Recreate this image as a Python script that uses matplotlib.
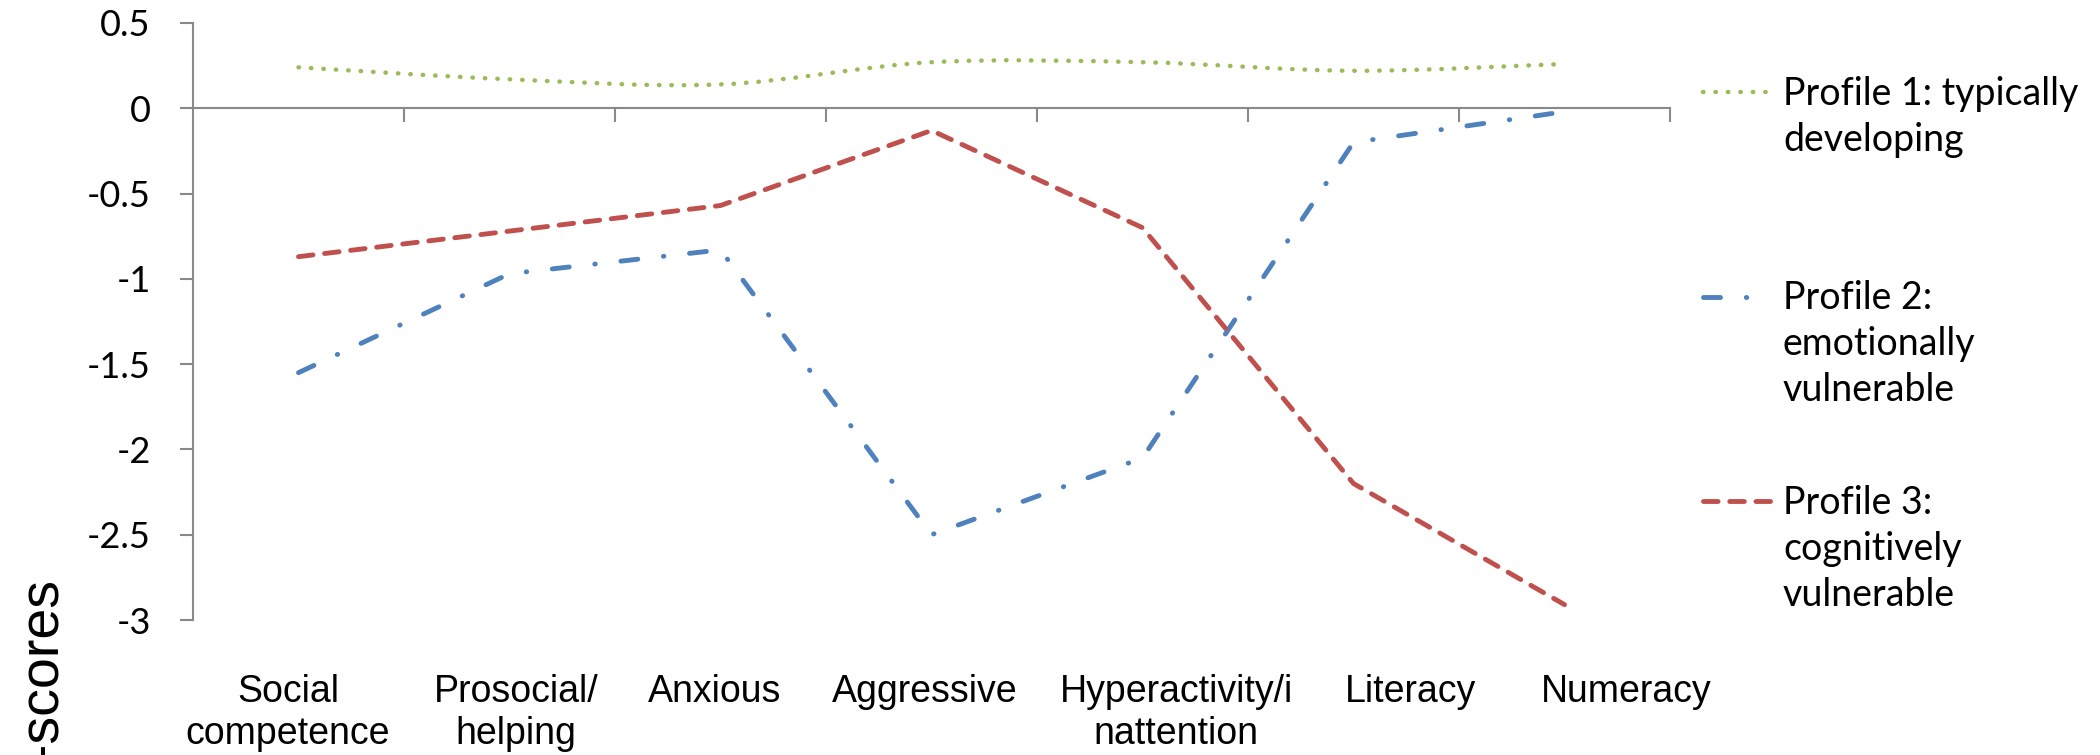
import numpy as np
import matplotlib.pyplot as plt
import matplotlib.transforms as mtransforms
from matplotlib.path import Path
from matplotlib.patches import PathPatch
from matplotlib.lines import Line2D

# data
categories = ['Social\ncompetence', 'Prosocial/\nhelping', 'Anxious', 'Aggressive',
              'Hyperactivity/i\nnattention', 'Literacy', 'Numeracy']
profile1 = [0.24, 0.17, 0.14, 0.27, 0.27, 0.22, 0.26]
profile2 = [-1.55, -0.97, -0.83, -2.50, -2.05, -0.20, -0.02]
profile3 = [-0.87, -0.72, -0.57, -0.13, -0.70, -2.20, -2.91]
series_labels = ['Profile 1: typically\ndeveloping',
                 'Profile 2:\nemotionally\nvulnerable',
                 'Profile 3:\ncognitively\nvulnerable']
ytick_values = [0.5, 0, -0.5, -1, -1.5, -2, -2.5, -3]
ytick_labels = ['0.5', '0', '-0.5', '-1', '-1.5', '-2', '-2.5', '-3']

# the reference's category labels sit a bit off their category centres
label_shift = [-0.05, 0.03, -0.03, -0.03, 0.16, 0.27, 0.29]

GREEN = '#9BBB59'
BLUE = '#4F81BD'
RED = '#C0504D'
GREY = '#898989'

W, H = 2100, 755


def smooth_path(x, y):
    # Catmull-Rom style bezier through the points (like Excel's smoothed line)
    pts = np.column_stack([x, y]).astype(float)
    n = len(pts)
    verts = [pts[0]]
    codes = [Path.MOVETO]
    for i in range(n - 1):
        p0 = pts[i - 1] if i > 0 else pts[i]
        p1 = pts[i]
        p2 = pts[i + 1]
        p3 = pts[i + 2] if i + 2 < n else pts[i + 1]
        verts += [p1 + (p2 - p0) / 6.0, p2 - (p3 - p1) / 6.0, p2]
        codes += [Path.CURVE4] * 3
    return Path(verts, codes)


styles = [
    dict(color=GREEN, lw=3.2, ls=(0, (0.1, 2.7))),
    dict(color=BLUE, lw=3.5, ls=(0, (3.5, 5.3, 0.1, 5.3))),
    dict(color=RED, lw=3.5, ls=(0, (3.0, 2.4))),
]

fig = plt.figure(figsize=(W / 100, H / 100), dpi=100)
ax = fig.add_axes([193 / W, 1 - 620 / H, (1670 - 193) / W, (620 - 23) / H])

x = np.arange(len(categories))

# profile 1 is a smoothed line
patch = PathPatch(smooth_path(x, profile1), fill=False, edgecolor=styles[0]['color'],
                  lw=styles[0]['lw'], linestyle=styles[0]['ls'], capstyle='round')
ax.add_patch(patch)
ax.plot(x, profile2, color=styles[1]['color'], lw=styles[1]['lw'],
        linestyle=styles[1]['ls'], dash_capstyle='round')
ax.plot(x, profile3, color=styles[2]['color'], lw=styles[2]['lw'],
        linestyle=styles[2]['ls'], dash_capstyle='round')

ax.set_xlim(-0.5, len(categories) - 0.5)
ax.set_ylim(-3, 0.5)

for s in ['top', 'right']:
    ax.spines[s].set_visible(False)
ax.spines['bottom'].set_position(('data', 0))
for s in ['left', 'bottom']:
    ax.spines[s].set_color(GREY)
    ax.spines[s].set_linewidth(1.5)

ax.set_xticks(x + 0.5)
ax.tick_params(axis='x', direction='out', length=10, width=1.5, color=GREY,
               labelbottom=False)
ax.set_yticks(ytick_values, ytick_labels)
ax.tick_params(axis='y', direction='out', length=9.4, width=1.5, color=GREY,
               pad=21, labelsize=26)
for t in ax.get_yticklabels():
    t.set_fontfamily('Lato')

# category labels below the plot (first lines aligned)
trans = mtransforms.blended_transform_factory(ax.transData, fig.transFigure)
for i, cat in enumerate(categories):
    ax.text(i + label_shift[i], 1 - 674 / H, cat, transform=trans, ha='center',
            va='top', fontsize=27, family='Liberation Sans', clip_on=False)

# y label, partly cut off at the bottom like the reference
fig.text(57 / W, 1 - 578 / H, 'Z-scores', rotation=90, rotation_mode='anchor',
         ha='right', va='baseline', fontsize=40, family='Liberation Sans')

# legend drawn by hand: key aligned with the first text line
key_y = [92, 297, 501]
text_top = [76, 280, 485]
for st, lab, ky, ty in zip(styles, series_labels, key_y, text_top):
    fig.add_artist(Line2D([1703 / W, 1770 / W], [1 - ky / H, 1 - ky / H],
                          transform=fig.transFigure, color=st['color'], lw=st['lw'],
                          linestyle=st['ls'], dash_capstyle='round'))
    fig.text(1783 / W, 1 - ty / H, lab, ha='left', va='top', fontsize=27,
             family='Lato', linespacing=1.35)

fig.savefig('out.png', dpi=100)
